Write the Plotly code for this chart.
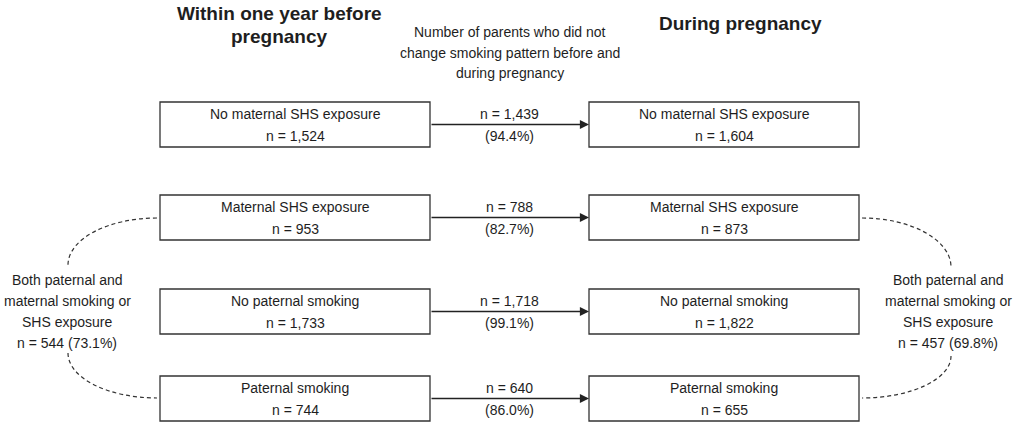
import plotly.graph_objects as go

# ---- data ----
box_labels = ["No maternal SHS exposure", "Maternal SHS exposure",
              "No paternal smoking", "Paternal smoking"]
before_n = ["1,524", "953", "1,733", "744"]
during_n = ["1,604", "873", "1,822", "655"]
unchanged_n = ["1,439", "788", "1,718", "640"]
unchanged_pct = ["94.4%", "82.7%", "99.1%", "86.0%"]
both_before = ("544", "73.1%")
both_during = ("457", "69.8%")
header_before = ["Within one year before", "pregnancy"]
header_during = ["During pregnancy"]
header_mid = ["Number of parents who did not", "change smoking pattern before and", "during pregnancy"]
both_label = ["Both paternal and", "maternal smoking or", "SHS exposure"]

# ---- layout geometry (1 axis unit = 1 screen px) ----
W, H = 1021, 426
L0, L1 = 160, 430
R0, R1 = 589, 859
box_tops = [102, 195, 289, 376]
box_h = 45
FONT = "Liberation Sans, Arial, sans-serif"
TXT = "#1e1e1e"
LINE = "#333333"

fig = go.Figure()
fig.add_trace(go.Scatter(x=[0, W], y=[0, H], mode="markers",
                         marker=dict(opacity=0), hoverinfo="skip", showlegend=False))

shapes = []
ann = []

def text_lines(x, y_first, lines, spacing, size=14, bold=False):
    for j, s in enumerate(lines):
        ann.append(dict(x=x, y=y_first + j * spacing, text=(f"<b>{s}</b>" if bold else s),
                        showarrow=False, font=dict(family=FONT, size=size, color=TXT),
                        xanchor="center", yanchor="middle"))

for i, lab in enumerate(box_labels):
    t = box_tops[i]
    b = t + box_h
    mid = (t + b) / 2
    for (x0, x1, n) in [(L0, L1, before_n[i]), (R0, R1, during_n[i])]:
        shapes.append(dict(type="rect", x0=x0, x1=x1, y0=t, y1=b,
                           line=dict(color=LINE, width=1.3), fillcolor="white", layer="below"))
        text_lines((x0 + x1) / 2, mid - 11, [lab, f"n = {n}"], 22)
    ann.append(dict(x=R0, y=mid, ax=L1, ay=mid, xref="x", yref="y", axref="x", ayref="y",
                    text="", showarrow=True, arrowhead=2, arrowsize=1.4, arrowwidth=1.3,
                    arrowcolor="#222", standoff=0))
    text_lines((L1 + R0) / 2, mid - 11, [f"n = {unchanged_n[i]}", f"({unchanged_pct[i]})"], 22)

# headers
text_lines(279, 13, header_before, 23, size=19, bold=True)
text_lines(740, 23, header_during, 23, size=19, bold=True)
text_lines(510, 32, header_mid, 20.5)

# side labels
text_lines(67, 280, both_label + [f"n = {both_before[0]} ({both_before[1]})"], 21)
text_lines(948, 280, both_label + [f"n = {both_during[0]} ({both_during[1]})"], 21)

k = 0.552
def arc(x0, y0, x1, y1, horiz_first=True):
    if horiz_first:
        c1 = (x0 + (x1 - x0) * k, y0)
        c2 = (x1, y1 - (y1 - y0) * k)
    else:
        c1 = (x0, y0 + (y1 - y0) * k)
        c2 = (x1 - (x1 - x0) * k, y1)
    return f"M {x0},{y0} C {c1[0]},{c1[1]} {c2[0]},{c2[1]} {x1},{y1}"

dash = dict(color="#333", width=1.2, dash="4px,3px")
shapes.append(dict(type="path", path=arc(157, 218, 68, 265, True), line=dash))
shapes.append(dict(type="path", path=arc(68, 353, 157, 398, False), line=dash))
shapes.append(dict(type="path", path=arc(862, 218, 951, 267, True), line=dash))
shapes.append(dict(type="path", path=arc(951, 356, 862, 398, False), line=dash))

fig.update_layout(width=W, height=H, margin=dict(l=0, r=0, t=0, b=0),
                  paper_bgcolor="white", plot_bgcolor="white",
                  xaxis=dict(range=[0, W], visible=False, fixedrange=True),
                  yaxis=dict(range=[H, 0], visible=False, fixedrange=True),
                  shapes=shapes, annotations=ann, showlegend=False, hovermode=False)
fig.write_html("out.html", config={"displayModeBar": False, "staticPlot": True},
               post_script="document.body.style.margin='0';document.body.style.overflow='hidden';")
